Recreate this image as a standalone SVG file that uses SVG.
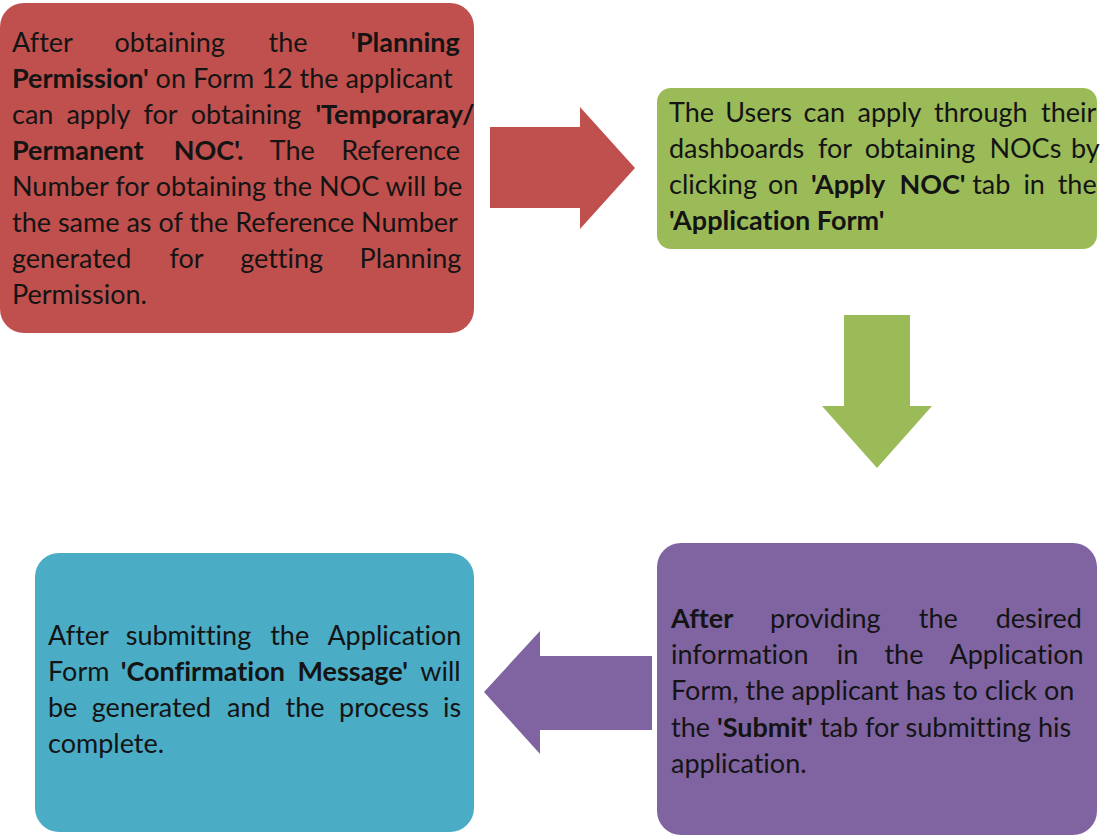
<svg xmlns="http://www.w3.org/2000/svg" width="1104" height="836" viewBox="0 0 1104 836">
<style>
.t{font-family:Lato,"Liberation Sans",sans-serif;font-size:27px;fill:#141414;font-variant-ligatures:none;font-feature-settings:"liga" 0,"clig" 0}
.b{font-weight:700}
.red{fill:#C0504D}.green{fill:#9BBB59}.purple{fill:#8064A2}.blue{fill:#4BACC6}
</style>
<rect width="1104" height="836" fill="#fff"/>
<g id="connectors">
<polygon class="red" points="490,127 580,127 580,107 635,168 580,229 580,208 490,208"/>
<polygon class="green" points="844,315 910,315 910,406 932,406 877,468 822,406 844,406"/>
<polygon class="purple" points="652,656 540,656 540,631 484,692 540,754 540,730 652,730"/>
</g>
<g id="node-planning">
<rect class="red" x="0" y="3" width="474" height="330" rx="24"/>
<text class="t" y="52"><tspan x="12">After</tspan><tspan x="114.4">obtaining</tspan><tspan x="268.5">the</tspan><tspan x="350.4">'<tspan class="b">Planning</tspan></tspan></text>
<text class="t" x="12" y="88"><tspan class="b">Permission'</tspan> on Form 12 the applicant</text>
<text class="t" y="124"><tspan x="12">can</tspan><tspan x="66.4">apply</tspan><tspan x="143.5">for</tspan><tspan x="190.8">obtaining</tspan><tspan x="315.4" class="b">'Temporaray/</tspan></text>
<text class="t b" y="160"><tspan x="12">Permanent</tspan><tspan x="173.7">NOC'.</tspan><tspan x="269.7" font-weight="400">The</tspan><tspan x="341.2" font-weight="400">Reference</tspan></text>
<text class="t" x="12" y="196">Number for obtaining the NOC will be</text>
<text class="t" x="12" y="232">the same as of the Reference Number</text>
<text class="t" y="268"><tspan x="12">generated</tspan><tspan x="169.5">for</tspan><tspan x="240.2">getting</tspan><tspan x="359.6">Planning</tspan></text>
<text class="t" x="12" y="304">Permission.</text>
</g>
<g id="node-apply">
<rect class="green" x="657" y="88" width="440" height="161" rx="14"/>
<text class="t" y="122"><tspan x="669">The</tspan><tspan x="725.3">Users</tspan><tspan x="803.6">can</tspan><tspan x="857.5">apply</tspan><tspan x="934.1">through</tspan><tspan x="1041.1">their</tspan></text>
<text class="t" y="158"><tspan x="669">dashboards</tspan><tspan x="817.9">for</tspan><tspan x="864.7">obtaining</tspan><tspan x="989.4">NOCs</tspan><tspan x="1071">by</tspan></text>
<text class="t" y="194"><tspan x="669">clicking</tspan><tspan x="768">on</tspan><tspan x="810.9" class="b">'Apply</tspan><tspan x="899.4" class="b">NOC'</tspan><tspan x="972.2">tab</tspan><tspan x="1023.4">in</tspan><tspan x="1057.7">the</tspan></text>
<text class="t b" x="669" y="230">'Application Form'</text>
</g>
<g id="node-submit">
<rect class="purple" x="657" y="543" width="440" height="292" rx="24"/>
<text class="t" y="628"><tspan x="671" class="b">After</tspan><tspan x="770.1">providing</tspan><tspan x="918.8">the</tspan><tspan x="995.7">desired</tspan></text>
<text class="t" y="664"><tspan x="671">information</tspan><tspan x="836.8">in</tspan><tspan x="884.4">the</tspan><tspan x="949.5">Application</tspan></text>
<text class="t" x="671" y="700">Form, the applicant has to click on</text>
<text class="t" x="671" y="737">the <tspan class="b">'Submit'</tspan> tab for submitting his</text>
<text class="t" x="671" y="773">application.</text>
</g>
<g id="node-confirm">
<rect class="blue" x="35" y="553" width="439" height="279" rx="24"/>
<text class="t" y="645"><tspan x="48">After</tspan><tspan x="125.7">submitting</tspan><tspan x="270.2">the</tspan><tspan x="327.4">Application</tspan></text>
<text class="t" y="681"><tspan x="48">Form</tspan><tspan x="120.8" class="b">'Confirmation</tspan><tspan x="297.4" class="b">Message'</tspan><tspan x="420.3">will</tspan></text>
<text class="t" y="717"><tspan x="48">be</tspan><tspan x="91.8">generated</tspan><tspan x="227">and</tspan><tspan x="285.5">the</tspan><tspan x="339">process</tspan><tspan x="443.1">is</tspan></text>
<text class="t" x="48" y="753">complete.</text>
</g>
</svg>
